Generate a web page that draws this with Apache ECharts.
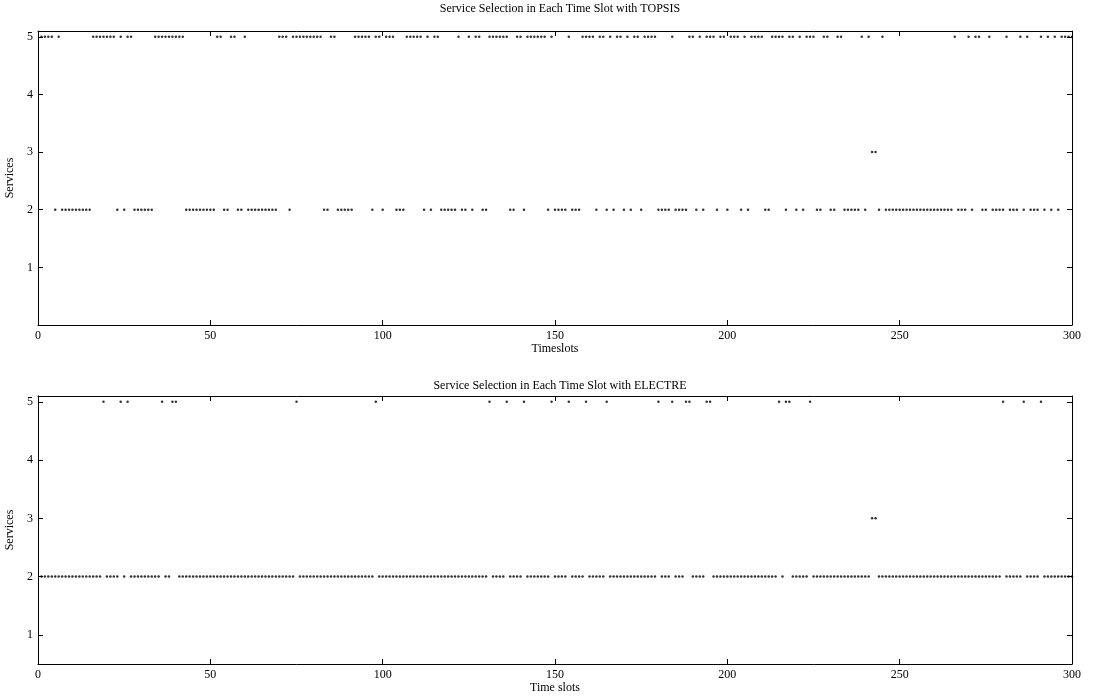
<!DOCTYPE html>
<html><head><meta charset="utf-8">
<script src="https://cdn.jsdelivr.net/npm/echarts@6/dist/echarts.min.js"></script>
<style>html,body{margin:0;padding:0;background:#fff}#c{width:1093px;height:697px}</style>
</head><body><div id="c"></div>
<script>
// Selected service per time slot (slots 1..300)
const topsisChoice = [
5,5,5,5,2,5,2,2,2,2, 2,2,2,2,2,5,5,5,5,5, 5,5,2,5,2,5,5,2,2,2, 2,2,2,5,5,5,5,5,5,5,
5,5,2,2,2,2,2,2,2,2, 2,5,5,2,2,5,5,2,2,5, 2,2,2,2,2,2,2,2,2,5, 5,5,2,5,5,5,5,5,5,5,
5,5,2,2,5,5,2,2,2,2, 2,5,5,5,5,5,2,5,5,2, 5,5,5,2,2,2,5,5,5,5, 5,2,5,2,5,5,2,2,2,2,
2,5,2,2,5,2,5,5,2,2, 5,5,5,5,5,5,2,2,5,5, 2,5,5,5,5,5,5,2,5,2, 2,2,2,5,2,2,2,5,5,5,
5,2,5,5,2,5,2,5,5,2, 5,2,5,5,2,5,5,5,5,2, 2,2,2,5,2,2,2,2,5,5, 2,5,2,5,5,5,2,5,5,2,
5,5,5,2,5,2,5,5,5,5, 2,2,5,5,5,5,2,5,5,2, 5,2,5,5,5,2,2,5,5,2, 2,5,5,2,2,2,2,2,5,2,
5,3,3,2,5,2,2,2,2,2, 2,2,2,2,2,2,2,2,2,2, 2,2,2,2,2,5,2,2,2,5, 2,5,5,2,2,5,2,2,2,2,
5,2,2,2,5,2,5,2,2,2, 5,2,5,2,5,2,5,5,5,5
];
const electreChoice = [
2,2,2,2,2,2,2,2,2,2, 2,2,2,2,2,2,2,2,5,2, 2,2,2,5,2,5,2,2,2,2, 2,2,2,2,2,5,2,2,5,5,
2,2,2,2,2,2,2,2,2,2, 2,2,2,2,2,2,2,2,2,2, 2,2,2,2,2,2,2,2,2,2, 2,2,2,2,5,2,2,2,2,2,
2,2,2,2,2,2,2,2,2,2, 2,2,2,2,2,2,2,5,2,2, 2,2,2,2,2,2,2,2,2,2, 2,2,2,2,2,2,2,2,2,2,
2,2,2,2,2,2,2,2,2,2, 5,2,2,2,2,5,2,2,2,2, 5,2,2,2,2,2,2,2,5,2, 2,2,2,5,2,2,2,2,5,2,
2,2,2,2,5,2,2,2,2,2, 2,2,2,2,2,2,2,2,2,5, 2,2,2,5,2,2,2,5,5,2, 2,2,2,5,5,2,2,2,2,2,
2,2,2,2,2,2,2,2,2,2, 2,2,2,2,5,2,5,5,2,2, 2,2,2,5,2,2,2,2,2,2, 2,2,2,2,2,2,2,2,2,2,
2,3,3,2,2,2,2,2,2,2, 2,2,2,2,2,2,2,2,2,2, 2,2,2,2,2,2,2,2,2,2, 2,2,2,2,2,2,2,2,2,5,
2,2,2,2,2,5,2,2,2,2, 5,2,2,2,2,2,2,2,2,2
];
const xTickStep = 50;
const yTickValues = [1,2,3,4,5];
const titles = ['Service Selection in Each Time Slot with TOPSIS','Service Selection in Each Time Slot with ELECTRE'];
const xNames = ['Timeslots','Time slots'];
const yName = 'Services';

const FONT = '"Liberation Serif", "Times New Roman", serif';
const chart = echarts.init(document.getElementById('c'), null, {renderer:'canvas'});
const grids = [
  {left:38, right:21, top:31, height:294, outerBoundsMode:'none', containLabel:false},
  {left:38, right:21, top:396, height:268, outerBoundsMode:'none', containLabel:false}
];
const yRanges = [[0,5.1],[0.5,5.1]];
const lineStyle = {color:'#000', width:1};
const xAxes = [], yAxes = [];
grids.forEach((g,i)=>{
  xAxes.push({gridIndex:i, type:'value', min:0, max:300, interval:xTickStep, position:'bottom',
    name:xNames[i], nameLocation:'middle', nameGap:18, nameTextStyle:{fontFamily:FONT,fontSize:12,color:'#000'},
    axisLine:{show:true,onZero:false,lineStyle}, axisTick:{show:true,inside:true,length:5,lineStyle},
    axisLabel:{fontFamily:FONT,fontSize:12,color:'#000',margin:5}, splitLine:{show:false}});
  xAxes.push({gridIndex:i, type:'value', min:0, max:300, interval:xTickStep, position:'top',
    axisLine:{show:true,onZero:false,lineStyle}, axisTick:{show:true,inside:true,length:5,lineStyle},
    axisLabel:{show:false}, splitLine:{show:false}});
  yAxes.push({gridIndex:i, type:'value', min:yRanges[i][0], max:yRanges[i][1], position:'left',
    name:yName, nameLocation:'middle', nameGap:14, nameRotate:90, nameTextStyle:{fontFamily:FONT,fontSize:12,color:'#000'},
    axisLine:{show:true,onZero:false,lineStyle},
    axisTick:{show:true,inside:true,length:5,lineStyle,customValues:yTickValues},
    axisLabel:{fontFamily:FONT,fontSize:12,color:'#000',margin:5,customValues:yTickValues}, splitLine:{show:false}});
  yAxes.push({gridIndex:i, type:'value', min:yRanges[i][0], max:yRanges[i][1], position:'right',
    axisLine:{show:true,onZero:false,lineStyle},
    axisTick:{show:true,inside:true,length:5,lineStyle,customValues:yTickValues},
    axisLabel:{show:false,customValues:yTickValues}, splitLine:{show:false}});
});
function toPoints(arr){ return arr.map((v,i)=>[i+1, v]); }
chart.setOption({
  animation:false,
  backgroundColor:'#fff',
  title: titles.map((t,i)=>({text:t, left:555, textAlign:'center', top: i===0 ? -2 : 375,
    textStyle:{fontFamily:FONT,fontSize:12,fontWeight:'normal',color:'#000'}})),
  grid: grids,
  xAxis: xAxes,
  yAxis: yAxes,
  series: [
    {type:'scatter', xAxisIndex:0, yAxisIndex:0, data:toPoints(topsisChoice), symbol:'circle', symbolSize:2.5, itemStyle:{color:'#000'}, silent:true},
    {type:'scatter', xAxisIndex:2, yAxisIndex:2, data:toPoints(electreChoice), symbol:'circle', symbolSize:2.5, itemStyle:{color:'#000'}, silent:true}
  ]
});
</script></body></html>
